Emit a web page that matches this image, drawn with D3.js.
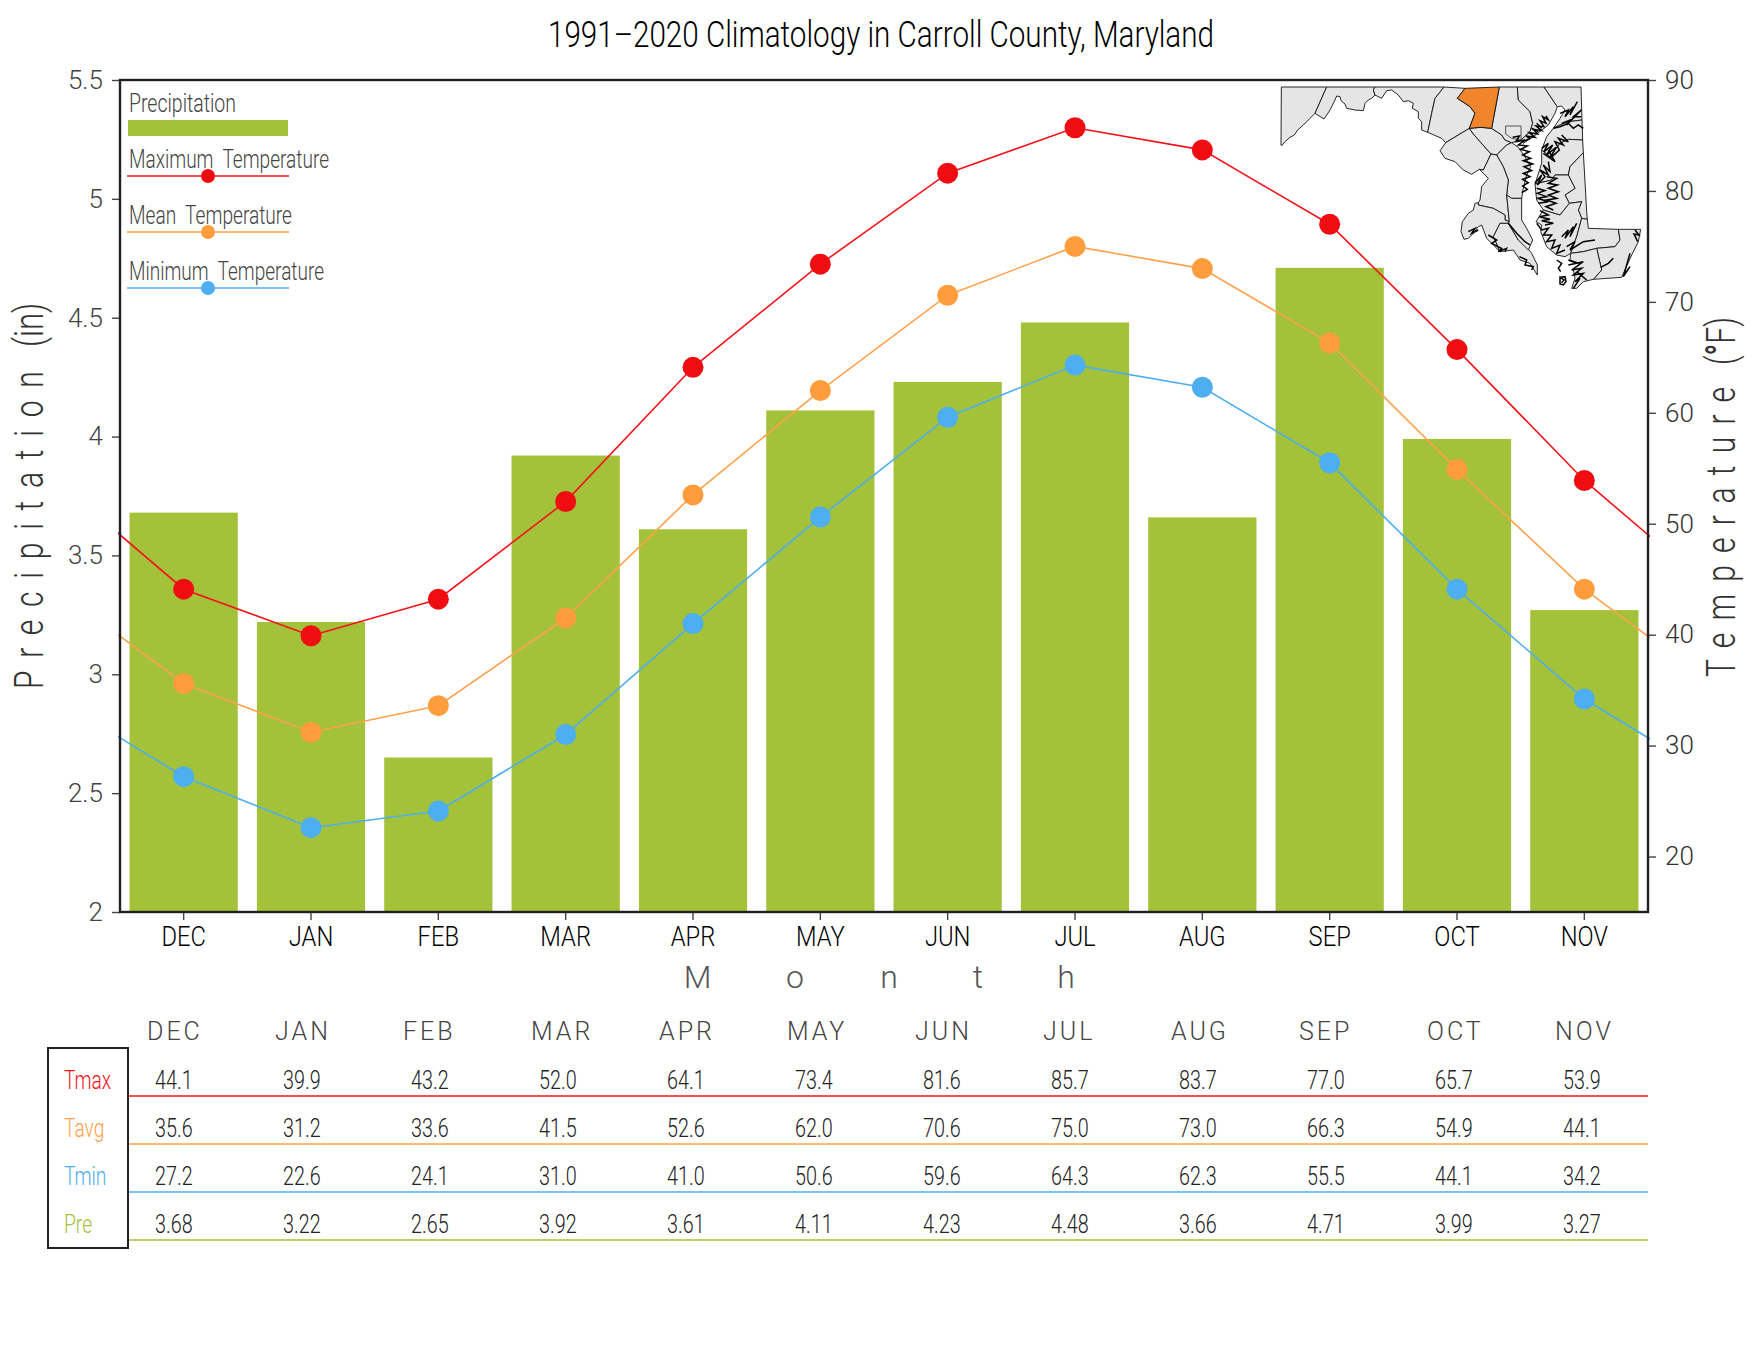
<!DOCTYPE html>
<html>
<head>
<meta charset="utf-8">
<script src="https://d3js.org/d3.v7.min.js"></script>
<style>
  body { margin: 0; background: #fff; }
  text { font-family: Roboto, "Liberation Sans", sans-serif; font-weight: 300; }
</style>
</head>
<body>
<div id="chart"></div>
<script>
const months = ['DEC', 'JAN', 'FEB', 'MAR', 'APR', 'MAY', 'JUN', 'JUL', 'AUG', 'SEP', 'OCT', 'NOV'];
const precip = [3.68, 3.22, 2.65, 3.92, 3.61, 4.11, 4.23, 4.48, 3.66, 4.71, 3.99, 3.27];
const tmax = [44.1, 39.9, 43.2, 52.0, 64.1, 73.4, 81.6, 85.7, 83.7, 77.0, 65.7, 53.9];
const tavg = [35.6, 31.2, 33.6, 41.5, 52.6, 62.0, 70.6, 75.0, 73.0, 66.3, 54.9, 44.1];
const tmin = [27.2, 22.6, 24.1, 31.0, 41.0, 50.6, 59.6, 64.3, 62.3, 55.5, 44.1, 34.2];
const precipTicks = [2, 2.5, 3, 3.5, 4, 4.5, 5, 5.5];
const tempTicks = [20, 30, 40, 50, 60, 70, 80, 90];

// county outlines, in map units
const counties = [
  ['Garrett', [[124,81],[260,81],[225,160],[205,180],[190,195],[173,210],[163,225],[150,232],[135,245],[127,255],[123,256]]],
  ['Allegany', [[260,81],[405,81],[400,90],[405,105],[395,115],[385,120],[375,130],[370,152],[345,150],[320,145],[315,132],[303,122],[300,110],[290,108],[285,120],[270,150],[252,177],[225,160]]],
  ['Washington', [[405,81],[612,81],[585,115],[575,160],[563,217],[545,210],[545,185],[535,175],[535,155],[517,145],[520,130],[505,122],[490,125],[475,105],[455,90],[440,92],[425,115],[405,105],[400,90]]],
  ['Frederick', [[612,81],[675,85],[652,115],[675,130],[690,140],[705,160],[688,205],[617,248],[605,235],[563,217],[575,160],[585,115]]],
  ['Montgomery', [[617,248],[688,205],[700,222],[753,282],[730,330],[718,328],[695,343],[670,330],[645,305],[615,295],[600,272]]],
  ['Howard', [[688,205],[722,202],[755,205],[785,225],[795,240],[815,248],[800,255],[770,285],[753,282],[700,222]]],
  ['Baltimore', [[778,81],[832,81],[835,120],[870,155],[878,190],[870,215],[845,238],[815,248],[795,240],[785,225],[755,205]]],
  ['Harford', [[832,81],[912,81],[945,130],[952,140],[945,160],[925,195],[880,230],[850,250],[845,238],[870,215],[878,190],[870,155],[835,120]]],
  ['Cecil', [[912,81],[1023,81],[1026,180],[985,185],[960,195],[940,205],[960,175],[975,150],[965,138],[952,140],[945,130]]],
  ['Anne Arundel', [[770,285],[800,255],[815,248],[835,262],[855,290],[872,320],[860,345],[850,385],[845,415],[815,415],[800,405],[805,360],[790,320]]],
  ['Prince Georges', [[730,330],[753,282],[770,285],[790,320],[805,360],[800,405],[808,485],[795,480],[795,465],[760,445],[715,435],[715,428],[720,420],[725,380],[745,355],[718,328]]],
  ['Charles', [[715,428],[715,435],[760,445],[795,465],[795,480],[808,485],[805,490],[780,490],[760,530],[765,540],[780,575],[760,555],[740,535],[725,495],[715,500],[700,520],[685,535],[672,538],[663,515],[667,485],[685,460],[700,450],[705,430]]],
  ['St Marys', [[805,490],[835,540],[855,555],[875,580],[892,615],[892,645],[870,610],[840,600],[820,570],[780,575],[765,540],[760,530],[780,490]]],
  ['Calvert', [[800,405],[815,415],[845,415],[845,480],[860,505],[878,540],[865,570],[835,540],[805,490],[808,485]]],
  ['Kent', [[1026,180],[1028,240],[985,238],[960,250],[930,290],[905,270],[920,230],[940,205],[960,195],[985,185]]],
  ['Queen Annes', [[1028,240],[1030,278],[990,320],[985,345],[945,345],[935,360],[885,372],[905,310],[905,270],[930,290],[960,250],[985,238]]],
  ['Caroline', [[1030,278],[1037,400],[1040,455],[1042,478],[1025,475],[1015,450],[1025,425],[988,430],[975,405],[1005,385],[985,345],[990,320]]],
  ['Talbot', [[935,360],[945,345],[985,345],[1005,385],[975,405],[988,430],[960,465],[910,450],[890,420],[885,372]]],
  ['Dorchester', [[988,430],[1025,425],[1015,450],[1025,475],[1010,530],[992,580],[975,590],[950,585],[920,560],[902,515],[905,495],[888,485],[910,450],[960,465]]],
  ['Wicomico', [[1025,475],[1042,478],[1045,505],[1135,508],[1140,540],[1125,560],[1070,565],[1030,575],[992,580],[1010,530]]],
  ['Worcester', [[1135,508],[1202,508],[1195,545],[1175,585],[1145,652],[1060,658],[1085,630],[1070,565],[1125,560],[1140,540]]],
  ['Somerset', [[992,580],[1030,575],[1070,565],[1085,630],[1060,658],[1030,665],[1010,685],[995,685],[1005,655],[1000,630],[1020,610],[990,600]]],
  ['Carroll', [[675,85],[778,81],[755,205],[722,202],[688,205],[705,160],[690,140],[675,130],[652,115]]],
];
const baltimoreCity = [[797,198],[843,198],[843,240],[815,235],[797,222],[797,198]];
const coastFringes = [
  [[848,245],[870,235],[858,228],[885,232],[868,218],[893,222],[880,208],[905,212],[888,198],[912,200],[900,182],[918,190],[908,170],[925,180],[918,168]],
  [[875,205],[895,215]],
  [[890,190],[905,205]],
  [[960,160],[985,150],[975,170],[1000,140],[990,165],[1012,125]],
  [[965,190],[990,180],[980,195],[1024,150],[1000,170],[1024,170]],
  [[940,205],[960,200],[985,190],[1000,205],[1015,195],[1030,205]],
  [[818,232],[838,228],[828,245],[855,240],[835,255],[862,258],[842,268],[868,275],[848,285],[872,295],[850,302],[878,312],[852,320],[875,332],[850,340],[870,350],[848,358],[865,368],[848,378],[862,388],[845,398]],
  [[905,265],[925,250],[912,275],[938,255],[920,285],[948,262],[930,295],[958,270],[945,245],[970,255],[955,235],[985,245],[965,225]],
  [[910,280],[945,305],[925,270]],
  [[885,370],[905,345],[892,375],[915,350],[900,330],[925,345],[910,315],[930,335],[925,305]],
  [[920,350],[950,355],[925,370],[952,375],[925,385],[955,395],[925,405],[950,415],[920,420],[948,430],[918,440],[940,450]],
  [[890,385],[915,392],[892,400],[920,410],[892,415],[925,425],[895,430]],
  [[900,452],[925,465],[898,470],[930,478],[905,482],[940,490],[915,495]],
  [[890,490],[905,510],[925,505],[910,525],[935,525],[920,545],[945,540],[935,565],[960,555],[950,580],[975,570]],
  [[965,530],[985,510],[975,535],[1000,500],[990,530],[1010,490]],
  [[980,560],[1005,545],[990,570],[1030,545],[1065,540]],
  [[985,600],[1010,610],[985,615],[1030,605],[995,630],[1025,625],[1000,645],[1030,640],[1005,665],[1020,655],[1000,685]],
  [[1010,635],[1040,660]],
  [[960,652],[975,650],[978,665],[970,675],[960,672],[960,652],[972,660],[965,668]],
  [[950,600],[965,610],[955,625],[962,635]],
  [[685,515],[705,505],[695,520],[715,510]],
  [[805,490],[830,520],[855,545],[870,555]],
  [[745,525],[770,540],[755,550],[785,565],[775,575],[800,565],[795,575]],
  [[838,590],[860,600],[855,615],[880,620],[875,630]],
  [[1185,510],[1197,525],[1182,522],[1193,545]],
  [[1170,580],[1150,650],[1170,620],[1155,640]],
  [[1082,622],[1105,610],[1120,595]],
];

const width = 1760;
const height = 1360;
const margin = { top: 80, right: 112, bottom: 448, left: 120 };
const plotRight = width - margin.right;
const plotBottom = height - margin.bottom;

const svg = d3.select('#chart').append('svg')
  .attr('width', width)
  .attr('height', height);

const xScale = d3.scaleBand()
  .domain(months)
  .range([margin.left, plotRight])
  .paddingInner(0.15)
  .paddingOuter(0.075);
const yPrecip = d3.scaleLinear().domain([2, 5.5]).range([plotBottom, margin.top]);
const yTemp = d3.scaleLinear().domain([15, 90]).range([plotBottom, margin.top]);

// centre of month i, also for the wrapped points just outside the plot
const monthX = i => xScale(months[0]) + xScale.bandwidth() / 2 + i * xScale.step();

function addText(parent, str, x, y, o = {}) {
  const t = parent.append('text')
    .attr('transform', `translate(${x},${y}) rotate(${o.rotate || 0}) scale(${o.sx || 1},1)`)
    .attr('font-size', o.size)
    .attr('fill', o.color || '#000')
    .attr('text-anchor', o.anchor || 'start')
    .text(str);
  if (o.len) t.attr('textLength', o.len).attr('lengthAdjust', 'spacingAndGlyphs');
  if (o.spacing) t.attr('letter-spacing', o.spacing);
  return t;
}

addText(svg, '1991\u20132020 Climatology in Carroll County, Maryland', 548, 47, { size: 37, len: 666 });

// bars
svg.append('g').selectAll('rect')
  .data(months)
  .join('rect')
  .attr('x', d => xScale(d))
  .attr('width', xScale.bandwidth())
  .attr('y', (d, i) => yPrecip(precip[i]))
  .attr('height', (d, i) => plotBottom - yPrecip(precip[i]))
  .attr('fill', '#a3c139');

// temperature lines, running out to the frame through the neighbouring months
svg.append('clipPath').attr('id', 'plot-clip').append('rect')
  .attr('x', margin.left - 2)
  .attr('y', margin.top)
  .attr('width', plotRight - margin.left + 4)
  .attr('height', plotBottom - margin.top);

const tempSeries = [
  { values: tmax, line: '#f5131a', dot: '#f00d12' },
  { values: tavg, line: '#ffa24d', dot: '#ff9d3c' },
  { values: tmin, line: '#4dafef', dot: '#4dafef' },
];
const lineGen = d3.line().x(d => monthX(d.i)).y(d => yTemp(d.v));

tempSeries.forEach(s => {
  const pts = s.values.map((v, i) => ({ i, v }));
  const wrapped = [{ i: -1, v: s.values[11] }, ...pts, { i: 12, v: s.values[0] }];
  svg.append('path')
    .attr('d', lineGen(wrapped))
    .attr('fill', 'none')
    .attr('stroke', s.line)
    .attr('stroke-width', 1.6)
    .attr('clip-path', 'url(#plot-clip)');
  svg.append('g').selectAll('circle')
    .data(pts)
    .join('circle')
    .attr('cx', d => monthX(d.i))
    .attr('cy', d => yTemp(d.v))
    .attr('r', 10.5)
    .attr('fill', s.dot);
});

// axes
const axisLeft = svg.append('g')
  .attr('transform', `translate(${margin.left},0)`)
  .call(d3.axisLeft(yPrecip).tickValues(precipTicks).tickFormat(d => d).tickSize(8).tickPadding(9));
const axisRight = svg.append('g')
  .attr('transform', `translate(${plotRight},0)`)
  .call(d3.axisRight(yTemp).tickValues(tempTicks).tickSize(8).tickPadding(9));
const axisBottom = svg.append('g')
  .attr('transform', `translate(0,${plotBottom})`)
  .call(d3.axisBottom(xScale).tickSize(8).tickPadding(0));

[axisLeft, axisRight, axisBottom].forEach(a => {
  a.select('.domain').remove();
  a.selectAll('line').attr('stroke', '#444').attr('stroke-width', 1.4);
});
axisLeft.selectAll('text').attr('font-size', 26).attr('fill', '#444').attr('font-family', null);
axisRight.selectAll('text').attr('font-size', 26).attr('fill', '#333').attr('font-family', null);
axisBottom.selectAll('text')
  .attr('font-size', 27)
  .attr('fill', '#000')
  .attr('font-family', null)
  .attr('y', 0)
  .attr('dy', 0)
  .attr('transform', 'translate(0,34) scale(.88,1)');

svg.append('rect')
  .attr('x', margin.left)
  .attr('y', margin.top)
  .attr('width', plotRight - margin.left)
  .attr('height', plotBottom - margin.top)
  .attr('fill', 'none')
  .attr('stroke', '#222')
  .attr('stroke-width', 2.4);

// axis titles
addText(svg, 'Precipitation', 43, 689, { size: 40, rotate: -90, sx: 0.75, spacing: 17, color: '#333' });
addText(svg, '(in)', 43, 347, { size: 40, rotate: -90, sx: 0.78, color: '#333' });
addText(svg, 'Temperature', 1735, 677, { size: 40, rotate: -90, sx: 0.75, spacing: 16.3, color: '#333' });
const tempUnit = addText(svg, '(', 1735, 365, { size: 40, rotate: -90, sx: 0.75, color: '#333' });
tempUnit.append('tspan').attr('font-weight', 700).text('\u00b0');
tempUnit.append('tspan').text('F)');

const monthLetters = ['M', 'o', 'n', 't', 'h'];
[697.5, 795, 889, 978, 1066].forEach((x, i) => {
  addText(svg, monthLetters[i], x, 988, { size: 32, anchor: 'middle', color: '#555' });
});

// legend
const legend = svg.append('g');
addText(legend, 'Precipitation', 129, 112, { size: 26, len: 107, color: '#444' });
legend.append('rect').attr('x', 128).attr('y', 120).attr('width', 160).attr('height', 16).attr('fill', '#a3c139');
const legendRows = [
  ['Maximum  Temperature', tempSeries[0], 168, 176, 200],
  ['Mean  Temperature', tempSeries[1], 224, 232, 163],
  ['Minimum  Temperature', tempSeries[2], 280, 288, 195],
];
legendRows.forEach(([label, s, textY, lineY, len]) => {
  addText(legend, label, 129, textY, { size: 26, len, color: '#444' }).style('white-space', 'pre');
  legend.append('line').attr('x1', 127).attr('x2', 289).attr('y1', lineY).attr('y2', lineY)
    .attr('stroke', s.line).attr('stroke-width', 1.6);
  legend.append('circle').attr('cx', 208).attr('cy', lineY).attr('r', 7).attr('fill', s.dot);
});

// inset map of Maryland
const mapPath = d3.geoPath(d3.geoIdentity().scale(1 / 3).translate([1240, 60]));
const map = svg.append('g');
map.selectAll('path.county')
  .data(counties)
  .join('path')
  .attr('class', 'county')
  .attr('d', d => mapPath({ type: 'Polygon', coordinates: [[...d[1], d[1][0]]] }))
  .attr('fill', d => d[0] === 'Carroll' ? '#f0852b' : '#e5e5e5')
  .attr('stroke', '#111')
  .attr('stroke-width', 0.9)
  .attr('stroke-linejoin', 'round');
map.append('path')
  .attr('d', mapPath({ type: 'LineString', coordinates: baltimoreCity }))
  .attr('fill', 'none')
  .attr('stroke', '#555')
  .attr('stroke-width', 1);
map.selectAll('path.fringe')
  .data(coastFringes)
  .join('path')
  .attr('class', 'fringe')
  .attr('d', d => mapPath({ type: 'LineString', coordinates: d }))
  .attr('fill', 'none')
  .attr('stroke', '#000')
  .attr('stroke-width', 1.5);

// table under the chart
const tableX = d3.scalePoint().domain(months).range([155, 1563]);
months.forEach(m => {
  addText(svg, m, tableX(m) - 8, 1040, { size: 25, color: '#444', spacing: 3 });
});
const tableRows = [
  ['Tmax', tmax.map(v => v.toFixed(1)), '#f5131a', 1089, 1096],
  ['Tavg', tavg.map(v => v.toFixed(1)), '#ffa24d', 1137, 1144],
  ['Tmin', tmin.map(v => v.toFixed(1)), '#4dafef', 1185, 1192],
  ['Pre', precip.map(v => v.toFixed(2)), '#a3c139', 1233, 1240],
];
tableRows.forEach(([name, vals, color, textY, lineY]) => {
  addText(svg, name, 64, textY, { size: 26, sx: 0.74, color });
  vals.forEach((v, i) => {
    addText(svg, v, tableX(months[i]), textY, { size: 26, sx: 0.76, color: '#222' });
  });
  svg.append('line').attr('x1', 128).attr('x2', plotRight).attr('y1', lineY).attr('y2', lineY)
    .attr('stroke', color).attr('stroke-width', 1.6);
});
svg.append('rect')
  .attr('x', 48).attr('y', 1048).attr('width', 80).attr('height', 200)
  .attr('fill', 'none').attr('stroke', '#222').attr('stroke-width', 2);
</script>
</body>
</html>
